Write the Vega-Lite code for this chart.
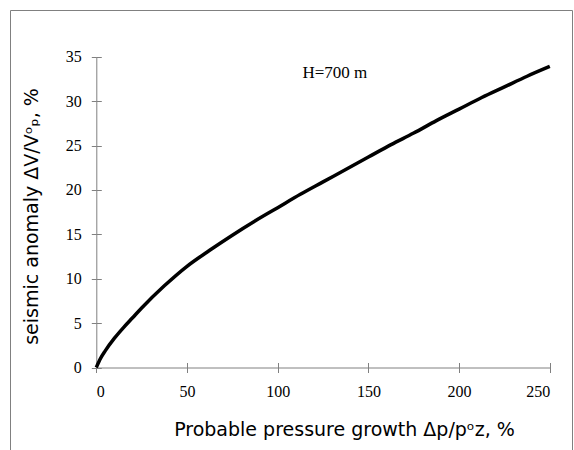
{
  "$schema": "https://vega.github.io/schema/vega-lite/v6.json",
  "autosize": {"type": "none"},
  "padding": {"left": 10, "top": 10, "right": 1, "bottom": 0},
  "width": 562,
  "height": 445,
  "background": "white",
  "config": {
    "view": {"stroke": "#808080", "strokeWidth": 1},
    "axis": {
      "grid": false,
      "domainColor": "#808080",
      "tickColor": "#808080",
      "labelFont": "Liberation Serif",
      "labelFontSize": 16,
      "labelColor": "black",
      "titleFont": "DejaVu Sans",
      "titleFontSize": 19,
      "titleFontWeight": "normal",
      "titleColor": "black"
    }
  },
  "datasets": {
    "curve": [
      {"p": 0, "v": 0},
      {"p": 2, "v": 0.9},
      {"p": 5, "v": 1.9},
      {"p": 10, "v": 3.3},
      {"p": 15, "v": 4.5},
      {"p": 20, "v": 5.6},
      {"p": 25, "v": 6.7},
      {"p": 37.5, "v": 9.2},
      {"p": 50, "v": 11.4},
      {"p": 62.5, "v": 13.2},
      {"p": 75, "v": 14.9},
      {"p": 87.5, "v": 16.5},
      {"p": 100, "v": 18.0},
      {"p": 112.5, "v": 19.5},
      {"p": 125, "v": 20.9},
      {"p": 137.5, "v": 22.3},
      {"p": 150, "v": 23.7},
      {"p": 162.5, "v": 25.1},
      {"p": 175, "v": 26.4},
      {"p": 187.5, "v": 27.8},
      {"p": 200, "v": 29.1},
      {"p": 212.5, "v": 30.4},
      {"p": 225, "v": 31.6},
      {"p": 237.5, "v": 32.8},
      {"p": 250, "v": 33.9}
    ],
    "note": [{"p": 131.5, "v": 33.2, "label": "H=700 m"}]
  },
  "resolve": {"axis": {"x": "independent", "y": "independent"}},
  "layer": [
    {
      "data": {"name": "curve"},
      "mark": {"type": "line", "color": "black", "strokeWidth": 3.5, "interpolate": "monotone"},
      "encoding": {
        "x": {
          "field": "p", "type": "quantitative",
          "scale": {"domain": [0, 250], "range": [86.3, 539.8], "nice": false, "zero": false},
          "axis": {
            "orient": "bottom",
            "values": [0, 50, 100, 150, 200, 250],
            "offset": -87.5,
            "tickSize": 5,
            "labelPadding": 11,
            "title": "Probable pressure growth  Δp/pᵒz, %",
            "titlePadding": 21,
            "titleX": 334,
            "titleAlign": "center"
          }
        },
        "y": {
          "field": "v", "type": "quantitative",
          "scale": {"domain": [0, 35], "range": [357.5, 46.7], "nice": false, "zero": false},
          "axis": {
            "orient": "left",
            "values": [0, 5, 10, 15, 20, 25, 30, 35],
            "offset": -86.3,
            "tickSize": 5,
            "labelPadding": 10,
            "title": "seismic anomaly  ΔV/Vᵒₚ,  %",
            "titlePadding": 24,
            "titleY": 206,
            "titleAlign": "center"
          }
        }
      }
    },
    {
      "data": {"name": "note"},
      "mark": {"type": "text", "font": "Liberation Serif", "fontSize": 17, "color": "black"},
      "encoding": {
        "x": {
          "field": "p", "type": "quantitative",
          "axis": {"orient": "bottom", "values": [0, 50, 100, 150, 200, 250], "offset": -87.5, "tickSize": -5, "labels": false, "domain": false, "title": null}
        },
        "y": {
          "field": "v", "type": "quantitative",
          "axis": {"orient": "left", "values": [0, 5, 10, 15, 20, 25, 30, 35], "offset": -86.3, "tickSize": -5, "labels": false, "domain": false, "title": null}
        },
        "text": {"field": "label"}
      }
    }
  ]
}
